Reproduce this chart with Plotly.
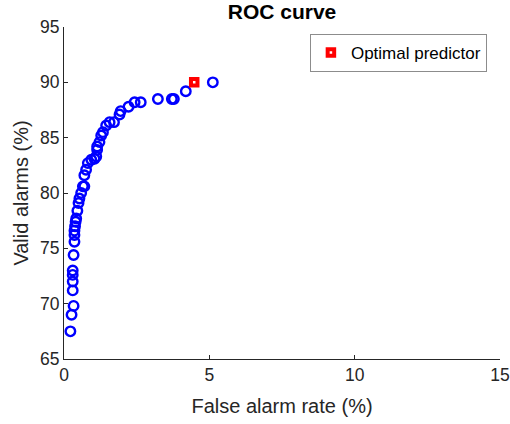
import plotly.graph_objects as go

far = [0.22, 0.26, 0.33, 0.30, 0.30, 0.30, 0.30, 0.33, 0.36, 0.36, 0.36, 0.38, 0.40, 0.42,
       0.46, 0.50, 0.53, 0.59, 0.70, 0.65, 0.70, 0.76, 0.82, 0.94, 1.05, 1.11, 1.14, 1.14,
       1.22, 1.28, 1.34, 1.45, 1.57, 1.72, 1.91, 1.95, 2.22, 2.43, 2.64, 3.23, 3.71, 3.78,
       4.19, 5.12]
valid = [67.5, 69.0, 69.8, 71.2, 72.0, 72.6, 73.0, 74.4, 75.6, 76.2, 76.6, 77.0, 77.4, 77.7,
         78.4, 79.1, 79.5, 80.0, 80.6, 80.6, 81.6, 82.1, 82.7, 83.0, 83.1, 83.3, 83.9, 84.2,
         84.6, 85.2, 85.5, 86.1, 86.4, 86.4, 87.1, 87.4, 87.8, 88.2, 88.2, 88.5, 88.5, 88.5,
         89.2, 90.0]
opt_far = [4.48]
opt_valid = [90.0]

axis_col = "#262626"
font_fam = "Liberation Sans, Arial, sans-serif"

fig = go.Figure()
fig.add_trace(go.Scatter(
    x=far, y=valid, mode="markers", showlegend=False,
    marker=dict(symbol="circle-open", size=9.5, color="#0000ff", line=dict(width=2.4, color="#0000ff")),
))
fig.add_trace(go.Scatter(
    x=opt_far, y=opt_valid, mode="markers", name="Optimal predictor",
    marker=dict(symbol="square", size=6.5, color="white", line=dict(width=4, color="#ff0000")),
))

fig.update_layout(
    width=510, height=424,
    margin=dict(l=64, r=10, t=27, b=65, autoexpand=False),
    paper_bgcolor="white", plot_bgcolor="white",
    font=dict(family=font_fam, color=axis_col),
    title=dict(text="<b>ROC curve</b>", x=(64 + 500) / 2 / 510, xanchor="center",
               y=1 - 12 / 424, yanchor="middle", yref="container",
               font=dict(size=21, color="black", family=font_fam)),
    showlegend=True,
    legend=dict(x=0.97, y=0.979, xanchor="right", yanchor="top",
                bordercolor="#8c8c8c", borderwidth=1, bgcolor="white",
                tracegroupgap=0, itemwidth=30,
                font=dict(size=17, color="black", family=font_fam)),
)
fig.update_xaxes(
    range=[0, 15], tickvals=[0, 5, 10, 15], showgrid=False, zeroline=False, automargin=False,
    showline=True, linecolor=axis_col, linewidth=1, mirror=False,
    ticks="inside", ticklen=4, tickcolor=axis_col, tickfont=dict(size=17.5, color=axis_col),
    title=dict(text="False alarm rate (%)", font=dict(size=20, color=axis_col), standoff=14),
)
fig.update_yaxes(
    range=[65, 95], tickvals=[65, 70, 75, 80, 85, 90, 95], showgrid=False, zeroline=False,
    automargin=False,
    showline=True, linecolor=axis_col, linewidth=1, mirror=False,
    ticks="inside", ticklen=4, tickcolor=axis_col, tickfont=dict(size=17.5, color=axis_col),
    title=dict(text="Valid alarms (%)", font=dict(size=20, color=axis_col), standoff=6),
)

fig.write_html("out.html")
